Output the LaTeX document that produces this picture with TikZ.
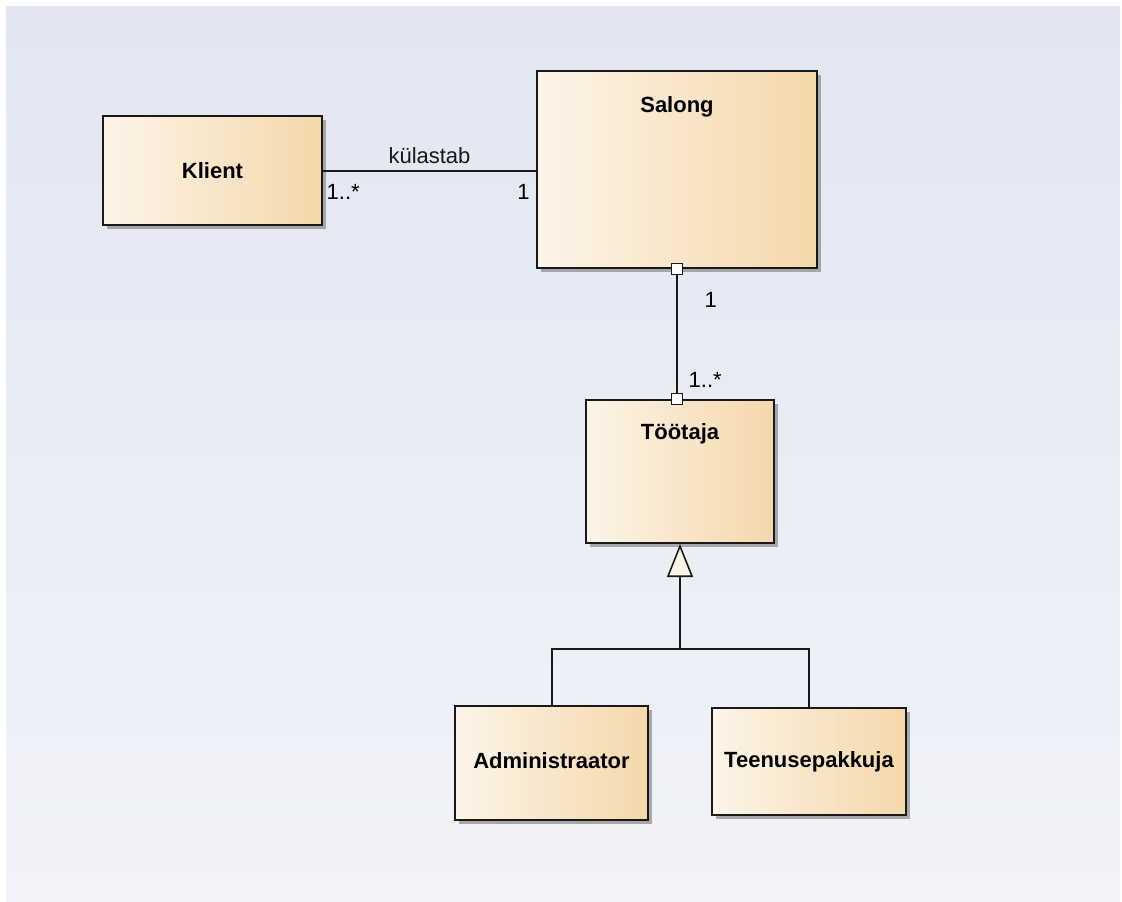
\documentclass[tikz,border=0pt]{standalone}
\usepackage{fontspec}
\setmainfont{Liberation Sans}
\usepackage{tikz}
\usetikzlibrary{calc, positioning, arrows.meta, shadows}
\definecolor{ClassLeft}{RGB}{252,244,233}
\definecolor{ClassRight}{RGB}{245,216,170}
\definecolor{BgTop}{RGB}{226,230,242}
\definecolor{BgBottom}{RGB}{241,243,248}
\definecolor{tipFill}{RGB}{251,243,230}
\definecolor{shadowGrey}{RGB}{150,150,150}

\begin{document}
\begin{tikzpicture}[
  x=0.75pt, y=-0.75pt,
  font=\fontsize{16.5}{19}\selectfont,
  line width=1.5pt,
  umlclass/.style={draw=black!90, left color=ClassLeft, right color=ClassRight,
    drop shadow={shadow xshift=3pt, shadow yshift=-3pt, fill=shadowGrey, opacity=0.8},
    font=\fontsize{16.5}{19}\selectfont\bfseries, inner sep=0pt},
  port/.style={draw=black!90, fill=white, line width=1.2pt, minimum size=8.5pt, inner sep=0pt},
  mult/.style={inner sep=2pt},
]
\useasboundingbox (0,0) rectangle (1122,901);
% --- Background -----------------------------------------------------
\fill[white] (0,0) rectangle (1122,901);
\fill[top color=BgTop, bottom color=BgBottom] (6,6) rectangle (1120,901);

% --- Classes ---------------------------------------------------------
\node[umlclass, minimum width=164.25pt, minimum height=81.75pt] (klient) at (212.5,170.5) {Klient};
\node[umlclass, minimum width=210pt, minimum height=147.75pt,
  label={[anchor=north, yshift=-16pt, font=\fontsize{16.5}{19}\selectfont\bfseries]north:Salong}] (salong) at (677,169.5) {};
\node[umlclass, minimum width=141pt, minimum height=107.25pt,
  label={[anchor=north, yshift=-14.5pt, font=\fontsize{16.5}{19}\selectfont\bfseries]north:Töötaja}] (tootaja) at (680,471.5) {};
\node[umlclass, minimum width=144.75pt, minimum height=85.5pt] (admin) at (551.5,763) {\raisebox{4pt}{Administraator}};
\node[umlclass, minimum width=145.5pt, minimum height=80.25pt] (teenus) at (809,761.5) {Teenusepakkuja};

% --- Association Klient - Salong -------------------------------------
\draw[black!90] (klient.east) -- node[above=1pt] {külastab} (klient.east -| salong.west);
\node[mult, anchor=north west] at ([yshift=-8pt]klient.east) {1..*};
\node[mult, anchor=north east] at ([xshift=-2pt, yshift=-8pt]klient.east -| salong.west) {1};

% --- Aggregation Salong - Töötaja ------------------------------------
\node[port] (pSalong) at (salong.south) {};
\node[port] (pTootaja) at (salong.south |- tootaja.north) {};
\draw[black!90] (pSalong) -- (pTootaja);
\node[mult, anchor=north west] at ([xshift=18pt, yshift=-10pt]pSalong.south) {1};
\node[mult, anchor=south west] at ([xshift=6pt, yshift=1pt]pTootaja.north) {1..*};

% --- Generalization --------------------------------------------------
\coordinate (join) at (tootaja.south |- 0,649);
\draw[black!90, -{Triangle[length=24.75pt, width=19.5pt, fill=tipFill, line width=1.2pt]}] (join) -- (tootaja.south);
\draw[black!90] (admin.north) |- (join) -| (teenus.north);
\end{tikzpicture}
\end{document}
